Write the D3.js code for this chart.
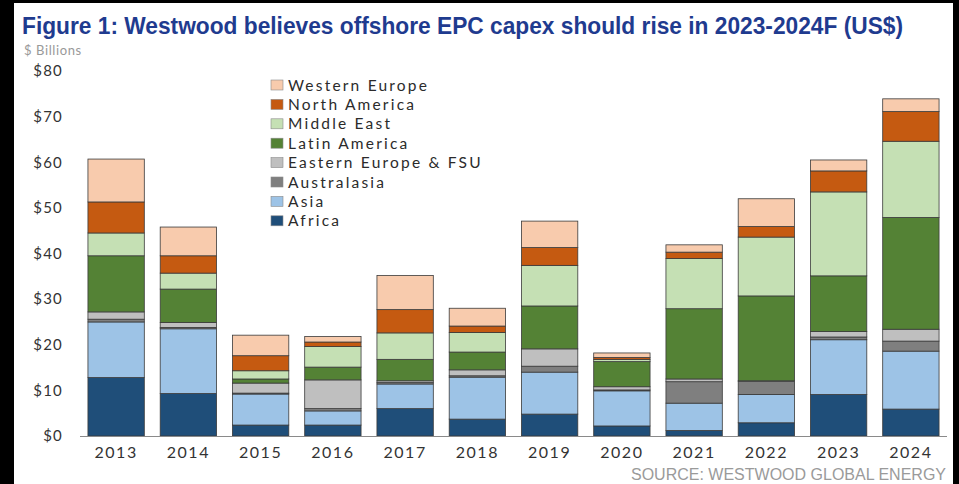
<!DOCTYPE html>
<html>
<head>
<meta charset="utf-8">
<script src="https://cdn.jsdelivr.net/npm/d3@7"></script>
<style>
  body { margin: 0; background: #fff; }
  svg { display: block; }
</style>
</head>
<body>
<svg id="chart"></svg>
<script>
// data (US$ billions)
var years = ["2013", "2014", "2015", "2016", "2017", "2018", "2019", "2020", "2021", "2022", "2023", "2024"];
var regions = ["Africa", "Asia", "Australasia", "Eastern Europe & FSU", "Latin America", "Middle East", "North America", "Western Europe"];
var africa       = [12.8, 9.3, 2.4, 2.4, 6.0, 3.7, 4.8, 2.2, 1.2, 2.9, 9.1, 5.9];
var asia         = [12.2, 14.2, 6.8, 3.1, 5.4, 9.2, 9.2, 7.7, 6.0, 6.2, 12.0, 12.7];
var australasia  = [0.6, 0.3, 0.2, 0.5, 0.3, 0.3, 1.3, 0.2, 4.7, 2.9, 0.6, 2.2];
var easternEurope = [1.6, 1.1, 2.2, 6.3, 0.4, 1.3, 3.8, 0.7, 0.6, 0.1, 1.2, 2.6];
var latinAmerica = [12.3, 7.3, 0.9, 2.8, 4.7, 3.9, 9.4, 5.5, 15.4, 18.6, 12.2, 24.5];
var middleEast   = [5.0, 3.5, 1.8, 4.5, 5.8, 4.3, 8.9, 0.5, 11.0, 12.9, 18.4, 16.7];
var northAmerica = [6.8, 3.8, 3.3, 1.0, 5.1, 1.4, 3.9, 0.4, 1.4, 2.3, 4.6, 6.5];
var westernEurope = [9.4, 6.3, 4.5, 1.2, 7.5, 3.9, 5.8, 1.0, 1.6, 6.1, 2.4, 2.8];
var yTicks = [0, 10, 20, 30, 40, 50, 60, 70, 80];

var series = [africa, asia, australasia, easternEurope, latinAmerica, middleEast, northAmerica, westernEurope];
var colors = ["#1f4e79", "#9dc3e6", "#7f7f7f", "#bfbfbf", "#548235", "#c5e0b4", "#c55a11", "#f8cbad"];

var width = 959, height = 484;
var svg = d3.select("#chart").attr("width", width).attr("height", height);

// frame
svg.append("rect").attr("x", 0).attr("y", 0).attr("width", width).attr("height", height).attr("fill", "#000");
svg.append("rect").attr("x", 14).attr("y", 3).attr("width", 939).attr("height", height - 3).attr("fill", "#fff");

svg.append("text")
    .attr("x", 22).attr("y", 34)
    .attr("font-family", "Liberation Sans, Arial, sans-serif")
    .attr("font-weight", "bold")
    .attr("font-size", 24)
    .attr("textLength", 881)
    .attr("lengthAdjust", "spacingAndGlyphs")
    .attr("fill", "#1f3b8f")
    .text("Figure 1: Westwood believes offshore EPC capex should rise in 2023-2024F (US$)");

svg.append("text")
    .attr("x", 24).attr("y", 55)
    .attr("font-family", "Lato, sans-serif")
    .attr("font-size", 13)
    .attr("letter-spacing", 0.6)
    .attr("fill", "#999")
    .text("$ Billions");

var x = d3.scaleBand().domain(years).range([80, 947]).paddingInner(0.22).paddingOuter(0.11);
var y = d3.scaleLinear().domain([0, 80]).range([436, 71]);

var rows = years.map(function (yr, i) {
    var r = { year: yr };
    regions.forEach(function (k, j) { r[k] = series[j][i]; });
    return r;
});
var stacked = d3.stack().keys(regions)(rows);

var layers = svg.append("g").selectAll("g").data(stacked).join("g")
    .attr("fill", function (d, i) { return colors[i]; });
layers.selectAll("rect").data(function (d) { return d; }).join("rect")
    .attr("x", function (d) { return x(d.data.year); })
    .attr("y", function (d) { return y(d[1]); })
    .attr("width", x.bandwidth())
    .attr("height", function (d) { return y(d[0]) - y(d[1]); })
    .attr("stroke", "#3a3a3a")
    .attr("stroke-width", 0.8);

// y axis labels
var yAxis = d3.axisLeft(y).tickValues(yTicks).tickSize(0).tickPadding(0)
    .tickFormat(function (d) { return "$" + d; });
var gy = svg.append("g").attr("transform", "translate(63,0)").call(yAxis);
gy.select(".domain").remove();
gy.selectAll("text").attr("font-family", "Lato, sans-serif").attr("font-size", 15)
    .attr("letter-spacing", 1.2).attr("fill", "#333");

// x axis
var xAxis = d3.axisBottom(x).tickSize(0).tickPadding(11);
var gx = svg.append("g").attr("transform", "translate(0,436)").call(xAxis);
gx.select(".domain").attr("stroke", "#8a8a8a").attr("d", "M80,0.5H947");
gx.selectAll("text").attr("font-family", "Lato, sans-serif").attr("font-size", 16)
    .attr("fill", "#333").attr("letter-spacing", 1.5);

// legend (top to bottom: Western Europe ... Africa)
var legend = svg.append("g").attr("transform", "translate(271,85)");
var legendItems = legend.selectAll("g").data(regions.slice().reverse()).join("g")
    .attr("transform", function (d, i) { return "translate(0," + i * 19.4 + ")"; });
legendItems.append("rect")
    .attr("x", 0).attr("y", -5).attr("width", 12).attr("height", 10)
    .attr("fill", function (d) { return colors[regions.indexOf(d)]; })
    .attr("stroke", "#8a8a8a").attr("stroke-width", 0.6);
legendItems.append("text")
    .attr("x", 17).attr("y", 5.5)
    .attr("font-family", "Lato, sans-serif")
    .attr("font-size", 15.5)
    .attr("fill", "#2b2b2b")
    .attr("letter-spacing", 2.2)
    .text(function (d) { return d; });

svg.append("text")
    .attr("x", 946).attr("y", 480)
    .attr("text-anchor", "end")
    .attr("font-family", "Liberation Sans, Arial, sans-serif")
    .attr("font-size", 16)
    .attr("fill", "#9a9a9a")
    .text("SOURCE: WESTWOOD GLOBAL ENERGY");
</script>
</body>
</html>
